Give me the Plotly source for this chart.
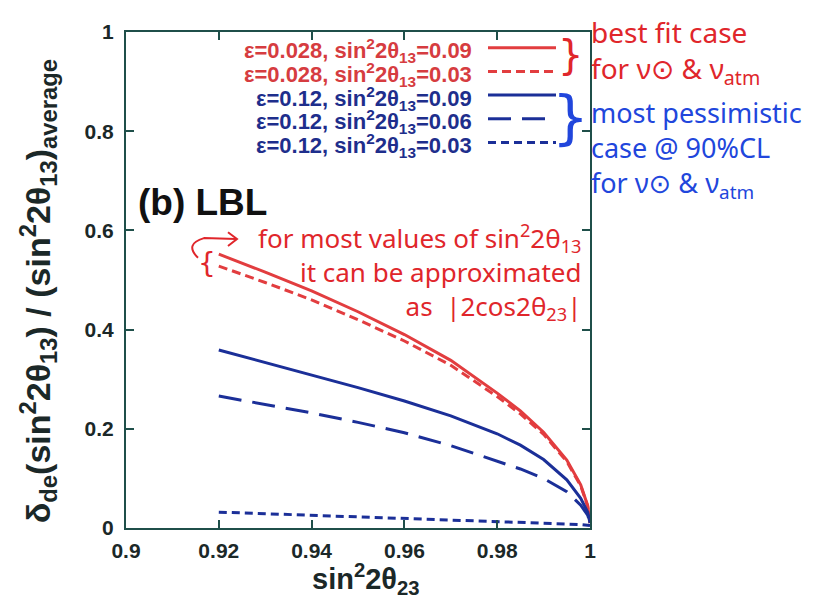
import plotly.graph_objects as go

# ---------------- data ----------------
x_vals = [0.92, 0.93, 0.94, 0.95, 0.96, 0.97, 0.98, 0.985, 0.99, 0.995, 0.998, 0.9995, 1.0]
red_solid = [0.552, 0.516, 0.478, 0.436, 0.390, 0.338, 0.272, 0.236, 0.193, 0.137, 0.087, 0.045, 0.010]
red_dashed = [0.528, 0.495, 0.460, 0.420, 0.377, 0.328, 0.265, 0.230, 0.189, 0.134, 0.085, 0.044, 0.010]
blue_solid = [0.359, 0.334, 0.308, 0.283, 0.256, 0.226, 0.190, 0.167, 0.138, 0.097, 0.060, 0.032, 0.010]
blue_long = [0.266, 0.249, 0.232, 0.213, 0.192, 0.166, 0.135, 0.119, 0.100, 0.073, 0.046, 0.026, 0.010]
blue_short = [0.032, 0.029, 0.026, 0.023, 0.019, 0.016, 0.013, 0.011, 0.010, 0.008, 0.007, 0.006, 0.005]

series_labels = [
    "ε=0.028, sin<sup>2</sup>2θ<sub>13</sub>=0.09",
    "ε=0.028, sin<sup>2</sup>2θ<sub>13</sub>=0.03",
    "ε=0.12, sin<sup>2</sup>2θ<sub>13</sub>=0.09",
    "ε=0.12, sin<sup>2</sup>2θ<sub>13</sub>=0.06",
    "ε=0.12, sin<sup>2</sup>2θ<sub>13</sub>=0.03",
]
x_ticks = [0.9, 0.92, 0.94, 0.96, 0.98, 1.0]
x_ticktext = ["0.9", "0.92", "0.94", "0.96", "0.98", "1"]
y_ticks = [0, 0.2, 0.4, 0.6, 0.8, 1.0]
y_ticktext = ["0", "0.2", "0.4", "0.6", "0.8", "1"]

# ---------------- styles ----------------
RED = "#e23d3f"
BLUE = "#1b2f98"
RED_TXT = "#d63c40"
BLUE_TXT = "#1e2e8c"
HAND_RED = "#e0262b"
HAND_BLUE = "#2146dc"
FRAME = "#1f4f4a"
INK = "#1b2828"

W, H = 824, 600
L, R, T, B = 118, 582, 17, 520  # plot area in pixels


def px(xp):
    return (xp - L) / (R - L)


def py(yp):
    return (B - yp) / (B - T)


styles = [
    dict(color=RED, dash="solid"),
    dict(color=RED, dash="9px,5px"),
    dict(color=BLUE, dash="solid"),
    dict(color=BLUE, dash="23px,11px"),
    dict(color=BLUE, dash="8px,5px"),
]
series = [red_solid, red_dashed, blue_solid, blue_long, blue_short]

fig = go.Figure()
for ys, st, name in zip(series, styles, series_labels):
    fig.add_trace(go.Scatter(
        x=x_vals, y=ys, mode="lines", name=name, showlegend=False,
        line=dict(color=st["color"], width=3, dash=st["dash"]),
    ))

annotations = []
shapes = []

# legend (text left, sample right)
row_y = [36, 60, 84, 108, 132]
txt_colors = [RED_TXT, RED_TXT, BLUE_TXT, BLUE_TXT, BLUE_TXT]
for lab, yy, tc, st in zip(series_labels, row_y, txt_colors, styles):
    annotations.append(dict(
        x=px(466), y=py(yy), xref="paper", yref="paper", text=lab,
        showarrow=False, xanchor="right", yanchor="middle",
        font=dict(family="Liberation Sans, Arial", size=22, color=tc, weight="bold"),
    ))
    shapes.append(dict(
        type="line", xref="paper", yref="paper",
        x0=px(480), x1=px(548), y0=py(yy - 3), y1=py(yy - 3),
        line=dict(color=st["color"], width=3, dash=st["dash"]),
    ))

# (b) LBL
annotations.append(dict(
    x=px(128), y=py(190), xref="paper", yref="paper", text="(b) LBL",
    showarrow=False, xanchor="left", yanchor="middle",
    font=dict(family="Liberation Sans, Arial", size=37, color="#111111", weight="bold"),
))

# axis titles
annotations.append(dict(
    x=px(358), y=py(572), xref="paper", yref="paper",
    text="sin<sup>2</sup>2θ<sub>23</sub>", showarrow=False,
    xanchor="center", yanchor="middle",
    font=dict(family="Liberation Sans, Arial", size=29, color=INK, weight="bold"),
))
annotations.append(dict(
    x=px(30), y=py(280), xref="paper", yref="paper",
    text="δ<sub>de</sub>(sin<sup>2</sup>2θ<sub>13</sub>) / (sin<sup>2</sup>2θ<sub>13</sub>)<sub>average</sub>",
    showarrow=False, textangle=-90, xanchor="center", yanchor="middle",
    font=dict(family="Liberation Sans, Arial", size=34, color=INK, weight="bold"),
))

# handwritten notes (right side)
hand_font = "Noto Sans, DejaVu Sans"
annotations.append(dict(
    x=px(581), y=py(37), xref="paper", yref="paper",
    text="best fit case<br>for ν⊙ &amp; ν<sub>atm</sub>",
    showarrow=False, xanchor="left", yanchor="middle", align="left",
    font=dict(family=hand_font, size=28, color=HAND_RED),
))
annotations.append(dict(
    x=px(581), y=py(136), xref="paper", yref="paper",
    text="most pessimistic<br>case @ 90%CL<br>for ν⊙ &amp; ν<sub>atm</sub>",
    showarrow=False, xanchor="left", yanchor="middle", align="left",
    font=dict(family=hand_font, size=27, color=HAND_BLUE),
))

# braces
annotations.append(dict(
    x=px(562), y=py(40), xref="paper", yref="paper", text="}",
    showarrow=False, xanchor="center", yanchor="middle",
    font=dict(family="DejaVu Sans", size=40, color=HAND_RED),
))
annotations.append(dict(
    x=px(562), y=py(104), xref="paper", yref="paper", text="}",
    showarrow=False, xanchor="center", yanchor="middle",
    font=dict(family="DejaVu Sans", size=58, color=HAND_BLUE),
))
annotations.append(dict(
    x=px(199), y=py(252), xref="paper", yref="paper", text="{",
    showarrow=False, xanchor="center", yanchor="middle",
    font=dict(family="DejaVu Sans", size=28, color=HAND_RED),
))

# red note inside plot
annotations.append(dict(
    x=px(575), y=py(260), xref="paper", yref="paper",
    text="for most values of sin<sup>2</sup>2θ<sub>13</sub><br>it can be approximated<br>as  |2cos2θ<sub>23</sub>|",
    showarrow=False, xanchor="right", yanchor="middle", align="right",
    font=dict(family=hand_font, size=26, color=HAND_RED),
))


def ppath(points, cmd):
    out = []
    for c, pts in zip(cmd, points):
        coords = " ".join(f"{px(a):.4f},{py(b):.4f}" for a, b in pts)
        out.append(f"{c} {coords}")
    return " ".join(out)


# curved arrow
shapes.append(dict(
    type="path", xref="paper", yref="paper",
    path=ppath([[(190, 246)], [(176, 232), (196, 226)], [(228, 227)]], ["M", "Q", "L"]),
    line=dict(color=HAND_RED, width=2),
))
shapes.append(dict(
    type="path", xref="paper", yref="paper",
    path=ppath([[(220, 220)], [(229, 227)], [(220, 234)]], ["M", "L", "L"]),
    line=dict(color=HAND_RED, width=2),
))

axis_common = dict(
    showgrid=False, zeroline=False, showline=True, linecolor=FRAME, linewidth=2,
    mirror="ticks", ticks="inside", ticklen=8, tickwidth=1.5, tickcolor=FRAME,
    tickfont=dict(family="Liberation Sans, Arial", size=21, color=INK, weight="bold"),
)

fig.update_layout(
    width=W, height=H,
    margin=dict(l=L, r=W - R, t=T, b=H - B),
    paper_bgcolor="white", plot_bgcolor="white",
    xaxis=dict(range=[0.9, 1.0], tickvals=x_ticks, ticktext=x_ticktext,
               ticklabelstandoff=3, **axis_common),
    yaxis=dict(range=[0, 1.0], tickvals=y_ticks, ticktext=y_ticktext,
               ticklabelstandoff=6, **axis_common),
    annotations=annotations,
    shapes=shapes,
)

fig.write_html("out.html")
